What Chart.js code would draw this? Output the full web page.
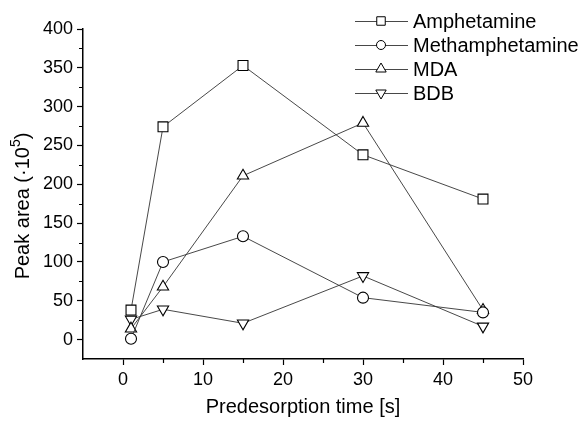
<!DOCTYPE html>
<html>
<head>
<meta charset="utf-8">
<script src="https://cdn.jsdelivr.net/npm/chart.js@4.4.1/dist/chart.umd.min.js"></script>
<style>
    html, body { margin: 0; padding: 0; background: #fff; }
    #wrap { width: 580px; height: 423px; }
</style>
</head>
<body>
<div id="wrap"><canvas id="peakChart"></canvas></div>
<script>
// Peak area vs predesorption time
const times = [1, 5, 15, 30, 45];
const amphetamine = [38, 274, 353, 238, 181];
const methamphetamine = [1, 100, 133, 54, 35];
const mda = [14, 68, 211, 279, 38];
const bdb = [26, 39, 21, 82, 17];

const seriesNames = ['Amphetamine', 'Methamphetamine', 'MDA', 'BDB'];
const xTicks = [0, 10, 20, 30, 40, 50];
const yTicks = [0, 50, 100, 150, 200, 250, 300, 350, 400];
const xMinor = [5, 15, 25, 35, 45];
const yMinor = [25, 75, 125, 175, 225, 275, 325, 375];

const fontFamily = "'Liberation Sans', Arial, sans-serif";
const lineColor = '#333';

function toPoints(values) {
    return times.map((t, i) => ({ x: t, y: values[i] }));
}

function makeSet(label, values, style, radius, rotation) {
    return {
        label: label,
        data: toPoints(values),
        showLine: true,
        borderColor: lineColor,
        borderWidth: 0.9,
        pointStyle: style,
        pointRotation: rotation,
        pointRadius: radius,
        pointBorderWidth: 1.1,
        pointBorderColor: '#000',
        pointBackgroundColor: '#fff'
    };
}

// marker drawing for the legend
function drawMarker(ctx, style, rotation, x, y, r) {
    ctx.beginPath();
    if (style === 'rect') {
        const s = r * Math.SQRT1_2;
        ctx.rect(x - s, y - s, 2 * s, 2 * s);
    } else if (style === 'circle') {
        ctx.arc(x, y, r, 0, Math.PI * 2);
    } else {
        const dir = rotation ? -1 : 1;
        ctx.moveTo(x, y - dir * r);
        ctx.lineTo(x + r * 0.866, y + dir * r * 0.5);
        ctx.lineTo(x - r * 0.866, y + dir * r * 0.5);
        ctx.closePath();
    }
    ctx.fillStyle = '#fff';
    ctx.fill();
    ctx.strokeStyle = '#000';
    ctx.lineWidth = 1;
    ctx.stroke();
}

const extrasPlugin = {
    id: 'extras',
    afterDraw(chart) {
        const ctx = chart.ctx;
        const xs = chart.scales.x;
        const ys = chart.scales.y;
        ctx.save();
        // minor ticks
        ctx.strokeStyle = '#000';
        ctx.lineWidth = 1.2;
        ctx.beginPath();
        xMinor.forEach(v => {
            const px = Math.round(xs.getPixelForValue(v)) + 0.5;
            ctx.moveTo(px, ys.bottom);
            ctx.lineTo(px, ys.bottom + 4);
        });
        yMinor.forEach(v => {
            const py = Math.round(ys.getPixelForValue(v)) + 0.5;
            ctx.moveTo(xs.left, py);
            ctx.lineTo(xs.left - 4, py);
        });
        ctx.stroke();

        // y axis title with a real superscript
        ctx.save();
        ctx.translate(23, 206);
        ctx.rotate(-Math.PI / 2);
        ctx.fillStyle = '#000';
        ctx.textBaseline = 'middle';
        const mainFont = '20px ' + fontFamily;
        const supFont = '14px ' + fontFamily;
        const parts = [['Peak area (·10', mainFont, 0], ['5', supFont, -7], [')', mainFont, 0]];
        let total = 0;
        parts.forEach(p => { ctx.font = p[1]; total += ctx.measureText(p[0]).width; });
        let cx = -total / 2;
        parts.forEach(p => {
            ctx.font = p[1];
            ctx.fillText(p[0], cx, p[2]);
            cx += ctx.measureText(p[0]).width;
        });
        ctx.restore();

        // legend
        const rowY = [21, 45, 69, 93];
        ctx.font = '20px ' + fontFamily;
        ctx.textBaseline = 'middle';
        chart.data.datasets.forEach((ds, i) => {
            const y = rowY[i];
            ctx.strokeStyle = lineColor;
            ctx.lineWidth = 0.9;
            ctx.beginPath();
            ctx.moveTo(355, y + 0.5);
            ctx.lineTo(408, y + 0.5);
            ctx.stroke();
            drawMarker(ctx, ds.pointStyle, ds.pointRotation, 381, y, ds.pointStyle === 'circle' ? 4.5 : 6);
            ctx.fillStyle = '#000';
            ctx.fillText(seriesNames[i], 413, y + 1);
        });
        ctx.restore();
    }
};

new Chart(document.getElementById('peakChart'), {
    type: 'scatter',
    data: {
        datasets: [
            makeSet(seriesNames[0], amphetamine, 'rect', 7, 0),
            makeSet(seriesNames[1], methamphetamine, 'circle', 5.5, 0),
            makeSet(seriesNames[2], mda, 'triangle', 6.5, 0),
            makeSet(seriesNames[3], bdb, 'triangle', 6.5, 180)
        ]
    },
    options: {
        responsive: true,
        maintainAspectRatio: false,
        animation: false,
        layout: {
            padding: { left: 0, right: 57, top: 29, bottom: 0 }
        },
        plugins: {
            legend: { display: false },
            tooltip: { enabled: false }
        },
        scales: {
            x: {
                type: 'linear',
                min: -5,
                max: 50,
                afterBuildTicks: scale => { scale.ticks = xTicks.map(v => ({ value: v })); },
                afterFit: scale => { scale.height = 64; },
                grid: {
                    drawOnChartArea: false,
                    drawTicks: true,
                    tickLength: 6,
                    tickColor: '#000',
                    tickWidth: 1.2
                },
                border: { display: true, color: '#000', width: 1.5 },
                ticks: {
                    color: '#000',
                    padding: 4,
                    maxRotation: 0,
                    font: { family: fontFamily, size: 18 }
                },
                title: {
                    display: true,
                    text: 'Predesorption time [s]',
                    color: '#000',
                    padding: { top: 0, bottom: 4 },
                    font: { family: fontFamily, size: 20 }
                }
            },
            y: {
                type: 'linear',
                min: -25,
                max: 400,
                afterBuildTicks: scale => { scale.ticks = yTicks.map(v => ({ value: v })); },
                afterFit: scale => { scale.width = 83; },
                grid: {
                    drawOnChartArea: false,
                    drawTicks: true,
                    tickLength: 6,
                    tickColor: '#000',
                    tickWidth: 1.2
                },
                border: { display: true, color: '#000', width: 1.5 },
                ticks: {
                    color: '#000',
                    padding: 4,
                    font: { family: fontFamily, size: 18 }
                },
                title: {
                    display: false
                }
            }
        }
    },
    plugins: [extrasPlugin]
});
</script>
</body>
</html>
